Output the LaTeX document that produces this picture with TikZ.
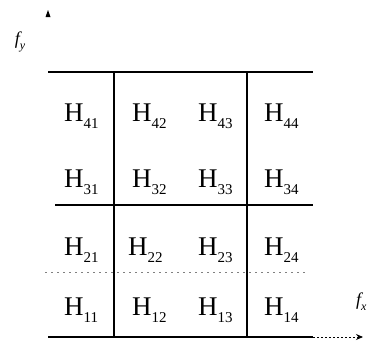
\documentclass[tikz,border=0pt]{standalone}
\usepackage{fontspec}
\setmainfont{Liberation Serif}
\usetikzlibrary{arrows.meta}
\newcommand{\hlab}[1]{H\raisebox{-7pt}{\fontsize{15}{15}\selectfont #1}}
\tikzset{
  grid/.style={line width=1.1pt},
  cell/.style={inner sep=0pt, anchor=base west, font=\fontsize{27}{27}\selectfont},
  axislab/.style={inner sep=0pt, font=\fontsize{18}{18}\selectfont\itshape},
  faint/.style={gray, line width=1pt, dash pattern=on 2pt off 4pt},
}
\begin{document}
\begin{tikzpicture}[x=1pt,y=-1pt]
\useasboundingbox (0,0) rectangle (367,343);
% frame lines
\coordinate (tl) at (48,72);
\coordinate (tr) at (313,72);
\coordinate (ml) at (55,205);
\coordinate (mr) at (313,205);
\coordinate (bl) at (48,337);
\coordinate (br) at (313,337);
\coordinate (ax) at (363,337);
\coordinate (v1t) at (114,72);
\coordinate (v1b) at (114,337);
\coordinate (v2t) at (247,72);
\coordinate (v2b) at (247,337);
\coordinate (dl) at (45,272);
\coordinate (dr) at (306,272);
\coordinate (ayt) at (48,10);
\draw[grid] (tl) -- (tr);
\draw[grid] (ml) -- (mr);
\draw[grid] (bl) -- (br);
\draw[grid] (v1t) -- (v1b);
\draw[grid] (v2t) -- (v2b);
\draw[faint] (dl) -- (dr);
\draw[line width=0.9pt, dash pattern=on 2pt off 2pt, -{Stealth[length=7pt,width=6pt]}] (br) -- (ax);
\fill (ayt) -- ++(-2.5,7) -- ++(5,0) -- cycle;
% labels
\node[axislab] (fy) at (20,42) {f\raisebox{-5pt}{\fontsize{12}{12}\selectfont y}};
\node[axislab, anchor=west] (fx) at (356,302) {f\raisebox{-5pt}{\fontsize{12}{12}\selectfont x}};
% cells
\node[cell] (h41) at (64,121) {\hlab{41}};
\node[cell] (h42) at (132,121) {\hlab{42}};
\node[cell] (h43) at (198,121) {\hlab{43}};
\node[cell] (h44) at (264,121) {\hlab{44}};
\node[cell] (h31) at (64,187) {\hlab{31}};
\node[cell] (h32) at (132,187) {\hlab{32}};
\node[cell] (h33) at (198,187) {\hlab{33}};
\node[cell] (h34) at (264,187) {\hlab{34}};
\node[cell] (h21) at (64,255) {\hlab{21}};
\node[cell] (h22) at (128,255) {\hlab{22}};
\node[cell] (h23) at (198,255) {\hlab{23}};
\node[cell] (h24) at (264,255) {\hlab{24}};
\node[cell] (h11) at (64,315) {\hlab{11}};
\node[cell] (h12) at (132,315) {\hlab{12}};
\node[cell] (h13) at (198,315) {\hlab{13}};
\node[cell] (h14) at (264,315) {\hlab{14}};
\end{tikzpicture}
\end{document}
